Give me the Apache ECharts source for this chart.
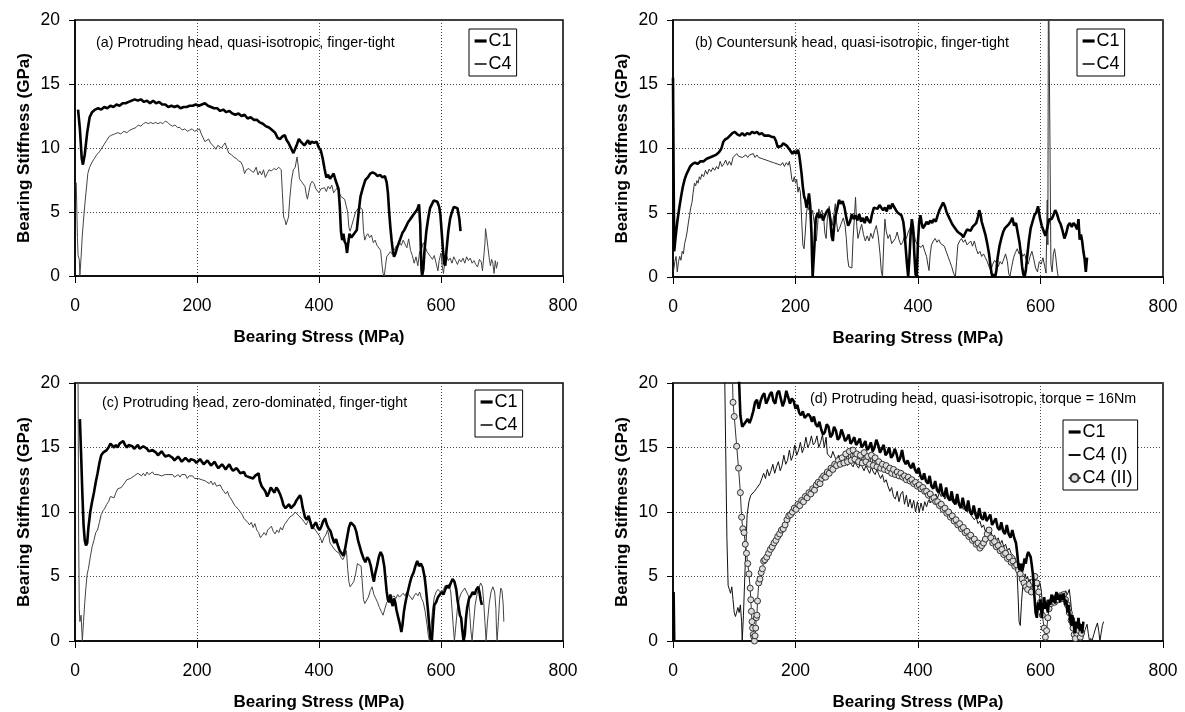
<!DOCTYPE html>
<html><head><meta charset="utf-8">
<script src="https://cdn.jsdelivr.net/npm/echarts@6/dist/echarts.min.js"></script>
<style>html,body{margin:0;padding:0;background:#fff}#c{width:1185px;height:712px}</style>
</head><body><div id="c"></div>
<script>
var xTicks = [0, 200, 400, 600, 800];
var yTicks = [0, 5, 10, 15, 20];
var xTitle = 'Bearing Stress (MPa)';
var yTitle = 'Bearing Stiffness (GPa)';
var notes = ['(a) Protruding head, quasi-isotropic, finger-tight',
  '(b) Countersunk head, quasi-isotropic, finger-tight',
  '(c) Protruding head, zero-dominated, finger-tight',
  '(d) Protruding head, quasi-isotropic, torque = 16Nm'];

var aC1 = [[5,13.0],[8,11.5],[11,9.2],[13,8.7],[16,9.5],[20,11.2],[24,12.4],[28,12.8],[33,13.0],[38,13.1],[43,13.0],[48,13.2],[53,13.1],[58,13.3],[63,13.2],[68,13.4],[73,13.3],[78,13.5],[83,13.5],[88,13.6],[93,13.7],[98,13.8],[103,13.7],[108,13.8],[113,13.6],[118,13.7],[123,13.5],[128,13.7],[133,13.5],[138,13.6],[143,13.4],[148,13.4],[153,13.2],[158,13.3],[163,13.2],[168,13.3],[173,13.1],[178,13.2],[183,13.2],[188,13.3],[193,13.3],[198,13.4],[203,13.3],[208,13.4],[213,13.5],[218,13.3],[223,13.2],[228,13.1],[233,13.1],[238,12.9],[243,13.0],[248,12.8],[253,12.9],[258,12.7],[263,12.6],[268,12.7],[273,12.5],[278,12.6],[283,12.3],[288,12.4],[293,12.2],[298,12.2],[303,12.0],[308,11.9],[313,11.7],[318,11.6],[323,11.4],[328,11.2],[332,10.8],[336,10.7],[340,10.9],[344,11.0],[347,10.6],[350,10.4],[354,10.0],[358,9.6],[361,9.7],[364,10.3],[367,10.7],[370,10.5],[373,10.6],[376,10.2],[379,10.4],[382,10.6],[385,10.3],[388,10.5],[392,10.4],[396,10.5],[400,10.0],[403,9.8],[406,9.2],[409,8.4],[412,7.7],[415,7.9],[418,7.6],[421,7.8],[424,8.0],[427,7.5],[430,7.6],[432,6.8],[434,5.5],[436,3.5],[438,2.8],[440,3.3],[442,2.7],[444,2.5],[446,1.8],[448,2.6],[450,3.3],[453,3.0],[456,3.2],[459,3.1],[462,3.6],[465,5.0],[468,6.2],[472,6.9],[476,7.5],[480,7.7],[484,8.0],[488,8.1],[492,8.0],[496,7.8],[500,7.9],[504,7.7],[508,7.8],[511,7.3],[513,6.5],[515,5.0],[517,3.8],[519,2.8],[521,2.0],[523,1.5],[525,1.7],[528,2.2],[531,2.6],[534,3.0],[537,3.4],[540,3.6],[543,3.9],[546,4.2],[549,4.4],[552,4.6],[555,4.8],[558,5.0],[561,5.2],[564,5.6],[566,4.0],[567,2.0],[568,0.5],[569,0],[571,0.5],[573,2.0],[576,3.5],[579,4.5],[582,5.3],[585,5.6],[588,5.9],[591,6.0],[594,5.8],[597,5.4],[599,4.8],[601,3.5],[603,2.2],[605,1.0],[607,0.8],[609,2.0],[612,3.5],[615,4.5],[618,5.0],[621,5.4],[624,5.5],[627,5.3],[630,4.5],[632,3.5]];

var aC4 = [[2,7.3],[4,3.0],[5,1.6],[7,1.3],[8,0],[10,1.5],[12,3.2],[15,5.0],[18,6.5],[21,8.0],[24,8.5],[28,8.9],[32,9.2],[36,9.5],[40,9.7],[44,10.0],[48,10.3],[52,10.6],[56,10.9],[60,11.0],[65,11.1],[70,11.2],[75,11.1],[80,11.3],[85,11.2],[90,11.4],[95,11.5],[100,11.6],[104,11.8],[108,11.7],[112,11.9],[116,12.0],[120,11.9],[124,12.0],[128,11.9],[132,12.0],[136,11.9],[140,12.0],[144,11.9],[148,12.1],[152,12.0],[156,11.8],[160,11.7],[164,11.8],[168,11.6],[172,11.6],[176,11.4],[180,11.5],[184,11.3],[188,11.4],[192,11.5],[196,11.3],[200,11.4],[204,11.5],[207,11.1],[210,10.8],[213,10.5],[216,10.4],[219,10.7],[222,10.4],[225,10.5],[228,10.1],[231,9.9],[234,10.2],[237,10.3],[240,10.0],[243,10.2],[246,10.4],[249,10.0],[252,9.6],[256,9.5],[260,9.3],[264,9.2],[268,9.0],[272,8.9],[275,8.6],[278,8.0],[281,8.3],[285,8.4],[289,8.2],[293,8.1],[297,8.5],[300,7.9],[303,8.2],[306,7.9],[309,8.3],[312,7.7],[315,8.0],[318,8.3],[322,8.2],[326,8.4],[330,8.3],[334,8.5],[338,8.3],[340,6.5],[342,4.6],[344,4.4],[346,4.0],[348,4.3],[350,4.6],[352,6.0],[355,7.5],[358,8.3],[361,8.5],[364,9.3],[366,8.6],[368,7.6],[371,7.4],[374,7.2],[377,7.0],[379,6.4],[381,6.0],[383,6.5],[386,7.2],[389,7.4],[392,7.2],[395,6.8],[398,6.9],[400,6.5],[403,6.8],[406,6.7],[409,6.9],[412,6.6],[415,7.0],[418,6.8],[421,7.1],[424,6.5],[427,6.7],[430,6.9],[433,6.5],[436,6.2],[439,6.3],[442,6.0],[445,6.0],[447,5.0],[449,3.8],[451,3.5],[454,4.0],[457,4.5],[460,5.0],[463,5.0],[466,5.4],[469,5.5],[471,5.2],[473,3.5],[475,2.8],[477,3.1],[480,3.3],[483,3.0],[486,3.2],[489,2.6],[492,2.8],[495,2.4],[498,2.5],[501,2.0],[503,1.0],[505,0.2],[507,0],[509,0.8],[511,1.5],[514,1.6],[517,1.9],[520,1.7],[523,2.0],[526,2.3],[529,2.2],[532,2.6],[535,2.4],[538,2.8],[541,2.5],[544,2.2],[547,2.9],[550,2.0],[553,1.6],[556,1.0],[559,1.5],[562,0.8],[565,1.9],[568,2.1],[571,2.6],[574,2.3],[577,1.9],[580,1.7],[583,1.5],[586,1.3],[589,1.6],[592,1.0],[595,0.4],[597,1.2],[600,1.8],[602,0.8],[604,0.2],[606,1.0],[609,1.6],[612,1.2],[615,1.4],[618,1.0],[621,1.5],[624,1.2],[627,0.9],[630,1.3],[633,1.1],[636,1.4],[639,1.0],[642,1.5],[645,1.2],[648,1.4],[651,1.0],[654,1.2],[657,0.9],[660,0.7],[663,1.3],[666,1.1],[668,0.4],[670,0.3],[672,2.5],[673,3.7],[675,3.0],[677,2.2],[679,1.4],[681,0.8],[683,1.3],[685,1.0],[687,0.2],[689,1.2],[691,0.6],[693,1.1]];

var bC1 = [[0,15.5],[1,8],[2,2.0],[4,3.0],[7,4.3],[10,5.3],[13,6.2],[16,7.0],[19,7.6],[22,8.0],[25,8.3],[28,8.6],[32,8.8],[36,8.9],[40,8.8],[45,9.0],[50,9.0],[55,9.2],[60,9.3],[65,9.4],[70,9.5],[75,9.7],[79,10.0],[82,10.5],[85,10.7],[89,10.8],[93,11.0],[97,11.2],[101,11.3],[105,11.1],[109,11.0],[113,11.2],[117,11.0],[121,11.2],[125,11.1],[129,11.3],[133,11.2],[137,11.3],[141,11.1],[145,11.2],[149,11.0],[153,11.0],[157,11.0],[161,10.9],[165,10.9],[168,10.6],[171,10.1],[174,10.0],[177,10.2],[180,10.4],[183,10.5],[186,10.2],[189,10.0],[192,9.8],[195,9.6],[198,9.8],[201,9.6],[204,9.9],[206,9.5],[208,8.8],[210,8.0],[212,7.0],[214,6.3],[216,6.0],[218,5.4],[220,5.8],[222,6.5],[224,5.6],[226,3.5],[227,1.5],[228,0],[229,0],[231,2.5],[233,4.5],[236,5.0],[239,4.6],[242,4.9],[245,4.4],[248,4.8],[251,5.1],[254,5.3],[257,4.4],[259,3.2],[261,2.8],[263,3.9],[265,4.7],[268,5.3],[271,6.0],[274,5.7],[277,5.9],[280,5.4],[283,4.6],[286,4.0],[289,4.3],[292,4.9],[295,4.5],[298,4.8],[301,4.4],[304,4.9],[307,4.3],[310,4.6],[313,4.2],[316,4.7],[319,4.4],[322,4.2],[325,4.9],[328,5.4],[331,5.5],[334,5.3],[337,5.6],[340,5.5],[343,5.2],[346,5.4],[349,5.1],[352,5.6],[355,5.3],[358,5.7],[361,5.8],[364,5.2],[367,5.0],[370,5.1],[373,4.8],[376,4.3],[378,3.5],[380,2.2],[382,1.0],[384,0],[386,1.5],[388,3.4],[390,4.5],[392,3.8],[394,1.8],[396,0.2],[398,0],[400,2.8],[402,4.3],[404,4.8],[406,4.2],[408,3.8],[411,4.0],[414,4.3],[417,4.1],[420,4.4],[423,4.2],[426,4.5],[429,4.3],[432,4.8],[435,5.2],[438,5.5],[441,5.8],[444,5.5],[447,5.0],[450,4.7],[453,4.4],[456,4.1],[459,3.9],[462,3.8],[465,3.5],[468,3.6],[471,3.3],[474,3.1],[477,3.4],[480,3.7],[483,3.8],[486,3.6],[489,3.9],[492,3.8],[495,4.2],[498,4.7],[500,5.2],[502,4.9],[504,4.3],[507,3.8],[510,3.3],[513,2.6],[516,1.8],[518,1.0],[520,0.3],[522,0],[524,0.2],[526,0],[528,0.5],[530,1.5],[533,2.4],[536,3.0],[539,3.5],[542,3.8],[545,3.9],[548,4.1],[551,4.3],[554,4.6],[557,4.0],[560,4.2],[563,3.4],[566,2.6],[568,1.8],[570,0.8],[572,0.2],[574,0],[576,0.5],[578,1.5],[581,2.8],[584,3.8],[587,4.3],[590,4.8],[593,5.0],[596,5.5],[599,4.6],[602,4.0],[605,3.6],[608,3.2],[611,3.8],[614,4.5],[618,4.5],[621,4.8],[624,5.2],[627,4.9],[630,4.4],[633,4.1],[636,3.6],[639,3.0],[642,3.4],[645,4.0],[648,4.2],[651,3.9],[654,4.2],[657,4.0],[660,3.7],[662,4.5],[664,2.9],[666,3.3],[668,2.8],[670,2.0],[672,1.4],[674,0.4],[676,1.5]];

var bC4 = [[1,0.5],[3,1.2],[5,1.6],[7,0.4],[9,1.2],[11,1.6],[13,1.3],[15,2.0],[17,1.8],[19,2.6],[21,3.0],[23,3.5],[25,4.2],[27,4.8],[29,5.4],[31,5.8],[33,6.6],[35,7.3],[37,7.1],[39,7.5],[41,7.3],[43,7.8],[45,7.6],[47,8.0],[50,7.8],[53,8.3],[56,8.0],[59,8.4],[62,8.2],[65,8.5],[68,8.3],[71,8.6],[74,8.4],[77,9.0],[80,8.6],[83,8.8],[86,9.1],[89,8.7],[92,9.0],[95,8.7],[98,9.3],[101,9.4],[104,9.6],[107,9.4],[110,9.5],[113,9.3],[116,9.4],[119,9.5],[122,9.3],[125,9.5],[128,9.4],[131,9.6],[134,9.3],[137,9.5],[140,9.3],[143,9.4],[146,9.2],[149,9.3],[152,9.1],[155,9.2],[158,9.0],[161,9.1],[164,8.9],[167,9.0],[170,8.8],[173,8.9],[176,8.7],[179,8.9],[182,8.6],[185,8.9],[188,8.7],[190,9.0],[192,8.4],[194,7.6],[196,7.4],[198,7.8],[200,7.3],[202,7.6],[204,6.6],[206,7.0],[208,6.6],[210,4.5],[212,2.5],[214,2.2],[216,3.5],[218,5.0],[220,5.6],[222,5.2],[224,5.6],[226,4.8],[228,5.2],[230,4.4],[232,3.8],[234,2.8],[236,4.0],[238,5.3],[240,4.9],[243,5.2],[246,4.6],[248,3.4],[250,3.0],[252,4.6],[255,5.5],[258,4.5],[260,4.0],[263,5.0],[265,5.7],[267,4.3],[269,3.5],[272,3.8],[275,4.2],[278,4.6],[281,4.0],[283,3.0],[285,1.5],[287,0.8],[290,0.9],[292,0.7],[294,3.0],[296,4.5],[298,6.2],[300,4.0],[302,3.0],[305,3.6],[308,4.1],[311,3.3],[314,2.8],[317,3.2],[320,2.8],[323,3.4],[326,3.0],[329,3.6],[332,4.0],[335,3.2],[338,1.8],[340,0.5],[342,0],[344,2.5],[346,4.5],[348,3.6],[351,3.0],[354,3.3],[357,2.6],[360,2.5],[363,3.0],[366,3.5],[369,2.9],[372,2.5],[375,2.7],[378,3.2],[381,3.0],[384,3.5],[387,3.8],[390,4.3],[393,3.6],[396,2.8],[399,2.5],[402,2.6],[405,2.3],[408,2.5],[411,2.0],[414,1.6],[416,1.0],[418,0.5],[420,1.8],[422,2.5],[425,2.8],[428,3.0],[431,2.7],[434,2.9],[437,2.6],[440,2.6],[443,2.4],[446,2.0],[449,1.6],[452,1.2],[455,0.8],[458,0.3],[461,0],[463,1.2],[465,2.5],[468,2.8],[471,3.0],[474,2.7],[477,2.9],[480,2.5],[483,2.6],[486,2.8],[489,2.4],[492,2.8],[495,2.2],[498,1.8],[501,2.0],[504,1.6],[507,1.8],[510,1.5],[513,1.2],[516,0.8],[519,0.5],[522,1.0],[525,1.3],[528,1.1],[531,0.8],[534,1.2],[537,1.0],[540,1.4],[543,1.8],[546,1.2],[548,0.3],[550,0],[553,0.8],[556,1.5],[559,1.9],[562,2.2],[565,1.8],[568,2.0],[571,1.6],[574,1.8],[577,1.3],[580,1.0],[583,1.6],[586,2.0],[589,1.4],[592,0.7],[595,0.4],[598,1.2],[601,1.0],[604,1.5],[607,0.8],[609,0.3],[611,6.0],[612,2.5],[613,25],[616,25],[617,1.0],[619,0.4],[621,1.8],[623,2.2],[625,1.5],[627,0.6],[629,0]];

var cC1 = [[8,17.2],[10,14.5],[12,11.5],[14,9.0],[16,7.8],[18,7.4],[20,7.6],[22,8.8],[25,10.0],[28,10.8],[31,11.5],[34,12.3],[37,13.0],[40,13.8],[43,14.4],[46,14.6],[49,14.6],[52,14.8],[55,15.0],[58,15.3],[61,15.2],[64,15.0],[67,15.2],[70,15.0],[73,15.3],[76,15.4],[79,15.5],[82,15.2],[85,15.0],[88,15.2],[91,15.3],[94,15.1],[97,14.9],[100,15.0],[103,15.2],[106,14.9],[109,14.8],[112,15.1],[115,15.2],[118,14.9],[121,14.7],[124,14.6],[127,14.8],[130,14.9],[133,14.6],[136,14.4],[139,14.5],[142,14.7],[145,14.5],[148,14.3],[151,14.2],[154,14.4],[157,14.5],[160,14.2],[163,14.0],[166,14.1],[169,14.3],[172,14.1],[175,13.9],[178,14.0],[181,14.2],[184,14.1],[187,13.9],[190,14.1],[193,14.2],[196,14.0],[199,13.8],[202,13.9],[205,14.1],[208,13.9],[211,13.7],[214,13.8],[217,14.0],[220,13.8],[223,13.6],[226,13.7],[229,13.9],[232,13.6],[235,13.4],[238,13.5],[241,13.7],[244,13.5],[247,13.3],[250,13.5],[253,13.7],[256,13.4],[259,13.2],[262,13.1],[265,13.4],[268,13.2],[271,13.0],[274,12.9],[277,13.1],[280,12.8],[283,12.9],[286,12.7],[289,12.8],[292,12.6],[295,12.8],[298,12.9],[301,13.0],[303,12.4],[306,12.0],[309,11.8],[312,11.6],[315,11.2],[318,11.5],[321,11.9],[324,11.8],[327,11.5],[330,11.9],[333,11.7],[336,11.4],[339,11.0],[342,10.5],[345,10.3],[348,10.4],[351,10.6],[354,10.3],[357,10.2],[360,10.6],[363,10.9],[366,11.1],[369,11.3],[371,11.0],[373,10.4],[375,10.0],[377,9.6],[380,9.4],[383,9.7],[386,9.2],[389,8.7],[392,9.0],[395,9.2],[398,8.8],[401,8.6],[404,8.9],[407,9.3],[410,9.5],[413,9.0],[416,8.7],[419,8.5],[422,8.0],[425,7.6],[428,7.9],[431,7.4],[434,7.0],[437,6.8],[440,6.6],[443,7.2],[446,8.0],[449,8.8],[452,9.2],[455,9.1],[458,8.9],[461,8.5],[464,7.8],[467,7.3],[470,6.8],[473,6.4],[476,6.1],[479,6.5],[482,6.3],[485,5.8],[488,5.0],[490,4.6],[492,5.2],[495,5.8],[498,6.5],[501,6.9],[504,6.6],[507,5.8],[509,4.8],[511,3.8],[513,3.2],[515,3.0],[517,3.6],[519,3.0],[521,2.7],[523,3.3],[525,3.0],[527,2.4],[529,2.0],[531,1.6],[533,1.2],[535,0.7],[537,1.3],[539,2.2],[541,2.8],[543,3.3],[546,3.9],[549,4.5],[552,5.0],[555,5.3],[558,5.8],[561,6.2],[564,5.8],[567,6.0],[570,5.7],[573,5.0],[575,4.2],[577,3.2],[579,2.2],[581,1.0],[583,0.2],[585,0],[587,1.5],[589,2.8],[592,3.0],[595,3.4],[598,3.3],[601,3.8],[604,3.6],[607,4.0],[610,4.3],[613,4.1],[616,4.5],[619,4.8],[622,4.6],[625,4.0],[627,3.2],[629,2.6],[631,2.0],[633,1.8],[635,0.8],[637,0],[639,0.5],[641,1.8],[643,2.6],[646,3.3],[649,3.5],[652,3.8],[655,3.6],[658,4.0],[661,4.2],[663,3.8],[665,3.2],[667,2.8]];

var cC4 = [[5,20.5],[6,8],[7,2.5],[8,1.5],[10,2.0],[11,1.0],[12,0],[14,1.5],[16,3.0],[18,4.2],[20,5.2],[22,5.6],[25,6.5],[28,7.3],[31,7.8],[34,8.4],[37,8.6],[40,9.2],[43,9.8],[46,10.1],[49,10.3],[52,10.6],[55,10.8],[58,11.2],[61,11.3],[64,11.1],[67,11.5],[70,11.8],[73,11.7],[76,11.9],[79,12.1],[82,12.3],[85,12.5],[88,12.4],[91,12.6],[94,12.5],[97,12.8],[100,12.7],[103,13.0],[106,12.9],[109,12.8],[112,13.0],[115,12.8],[118,13.1],[121,12.9],[124,12.8],[127,13.1],[130,12.9],[133,12.8],[136,12.9],[139,13.0],[142,12.8],[145,12.7],[148,12.9],[151,12.8],[154,12.9],[157,12.8],[160,12.9],[163,12.7],[166,12.8],[169,12.9],[172,12.7],[175,12.9],[178,12.8],[181,12.9],[184,12.6],[187,12.8],[190,12.7],[193,12.8],[196,12.6],[199,12.7],[202,12.6],[205,12.7],[208,12.5],[211,12.6],[214,12.4],[217,12.5],[220,12.2],[223,12.4],[226,12.1],[229,12.3],[232,12.0],[235,11.9],[238,12.1],[241,11.8],[244,11.6],[247,11.4],[250,11.6],[253,11.2],[256,11.0],[259,10.9],[262,10.5],[265,10.6],[268,10.2],[271,10.0],[274,9.8],[277,9.5],[280,9.6],[283,9.2],[286,9.0],[289,9.2],[292,8.8],[295,9.1],[298,8.6],[301,8.4],[304,8.0],[307,8.2],[310,8.4],[313,8.2],[316,8.6],[319,8.5],[322,8.9],[325,8.5],[328,8.3],[331,8.6],[334,8.4],[337,8.8],[340,8.6],[343,9.0],[346,9.2],[349,9.4],[352,9.6],[355,9.5],[358,9.8],[361,10.0],[364,9.9],[367,9.7],[370,9.8],[373,9.4],[376,9.2],[379,9.0],[382,9.3],[385,9.5],[388,9.0],[391,8.8],[394,8.6],[397,8.4],[400,8.2],[403,7.9],[405,7.6],[408,8.0],[411,8.2],[414,8.6],[416,8.2],[418,7.6],[421,7.4],[424,7.2],[427,7.0],[430,7.1],[433,6.8],[436,6.5],[439,6.3],[442,6.6],[445,7.0],[447,5.6],[449,4.6],[451,4.2],[454,4.3],[457,4.6],[460,5.2],[463,6.0],[466,6.1],[469,5.8],[471,4.5],[473,3.2],[475,2.9],[478,2.9],[481,3.4],[484,3.9],[487,4.2],[490,3.6],[493,3.3],[496,3.0],[499,2.6],[502,2.3],[505,2.0],[508,2.5],[511,3.0],[514,3.1],[517,3.3],[520,3.2],[523,3.5],[526,3.3],[529,3.6],[532,3.4],[535,3.5],[538,3.7],[541,3.5],[544,3.8],[547,3.6],[550,3.4],[553,3.2],[556,3.5],[559,3.7],[562,3.5],[565,3.8],[568,3.3],[571,3.0],[574,2.3],[577,1.3],[579,0.5],[581,0],[583,0.8],[586,2.3],[589,3.4],[592,3.8],[595,4.0],[598,3.9],[601,3.7],[604,4.0],[607,4.3],[610,4.1],[613,4.4],[616,3.8],[618,2.5],[620,1.2],[622,0],[624,1.0],[627,2.6],[630,3.3],[633,3.7],[636,3.9],[639,4.1],[642,4.0],[645,3.5],[647,2.2],[649,0.8],[651,0],[653,1.2],[656,2.8],[659,3.6],[662,4.1],[665,4.5],[668,4.2],[670,3.0],[672,1.5],[674,0],[676,1.4],[679,2.9],[682,3.8],[685,4.2],[688,3.8],[690,2.5],[691,0.8],[692,0],[694,1.5],[696,3.2],[698,4.1],[700,3.9],[702,2.8],[703,1.5]];

var dC1 = [[1,3.8],[2,0],[3,'-'],[106,22],[108,20],[110,17.5],[113,16.6],[116,16.8],[119,16.7],[122,17.2],[125,16.9],[128,17.3],[131,17.8],[134,18.5],[137,18.7],[140,18.0],[143,18.6],[146,19.0],[149,19.2],[152,18.4],[155,18.7],[158,19.1],[161,19.3],[164,18.6],[167,18.4],[170,19.2],[173,19.4],[176,18.8],[179,18.2],[182,18.6],[185,19.4],[188,18.9],[191,18.4],[194,18.8],[197,18.6],[200,18.0],[203,18.3],[206,17.7],[209,17.5],[212,17.8],[215,17.3],[218,17.2],[221,17.6],[224,17.4],[227,17.0],[230,17.4],[233,16.8],[236,16.6],[239,17.0],[242,16.4],[245,16.0],[248,16.2],[251,16.8],[254,16.6],[257,15.8],[260,16.0],[263,16.6],[266,16.3],[269,15.6],[272,15.8],[275,16.4],[278,16.0],[281,15.5],[284,15.7],[287,16.0],[290,15.3],[293,15.5],[296,15.8],[299,15.2],[302,15.4],[305,15.7],[308,15.0],[311,15.2],[314,15.5],[317,14.8],[320,15.0],[323,15.4],[326,14.7],[329,15.0],[332,15.6],[335,15.2],[338,14.6],[341,14.9],[344,15.2],[347,14.4],[350,14.6],[353,15.0],[356,14.2],[359,14.4],[362,14.9],[365,14.5],[368,13.9],[371,14.2],[374,14.8],[377,14.0],[380,13.7],[383,14.0],[386,13.6],[389,13.4],[392,13.8],[395,13.3],[398,13.0],[401,13.4],[404,12.8],[407,12.5],[410,13.0],[413,12.4],[416,12.2],[419,12.8],[422,12.0],[425,11.8],[428,12.4],[431,11.7],[434,11.5],[437,12.2],[440,11.4],[443,11.2],[446,11.9],[449,11.1],[452,10.9],[455,11.6],[458,10.8],[461,10.6],[464,11.4],[467,10.6],[470,10.3],[473,11.1],[476,10.4],[479,10.1],[482,10.9],[485,10.0],[488,9.8],[491,10.5],[494,9.8],[497,9.5],[500,10.3],[503,9.6],[506,9.4],[509,10.0],[512,9.3],[515,9.2],[518,9.8],[521,9.0],[524,8.9],[527,9.5],[530,8.8],[533,8.6],[536,9.2],[539,8.5],[542,8.3],[545,9.0],[548,8.3],[551,8.0],[554,8.6],[557,8.0],[560,7.6],[562,6.8],[564,5.8],[566,5.5],[568,6.0],[570,5.4],[572,5.8],[574,6.4],[576,6.0],[578,6.6],[580,6.9],[582,7.0],[584,6.5],[586,5.8],[588,5.0],[590,3.5],[592,2.2],[594,1.8],[596,3.0],[598,2.4],[600,3.2],[602,1.8],[604,2.6],[606,3.4],[608,2.5],[610,3.0],[612,2.2],[614,3.2],[616,2.8],[618,3.6],[620,3.0],[622,3.5],[624,2.9],[626,3.8],[628,3.2],[630,3.6],[632,3.0],[634,3.6],[636,3.2],[638,3.7],[640,2.8],[642,3.2],[644,2.2],[646,2.8],[648,1.8],[650,1.2],[652,2.0],[654,1.4],[656,0.6],[658,1.5],[660,1.0],[662,1.8],[664,0.8],[666,1.3],[668,0.6],[670,1.5]];

var dC4I = [[84,22],[86,15],[88,8],[90,4.3],[92,4.0],[94,3.7],[96,4.2],[98,3.2],[100,2.2],[102,1.9],[104,2.0],[106,2.6],[108,2.2],[110,2.8],[112,1.5],[113,0],[115,2.0],[118,6.0],[121,9.8],[124,10.8],[127,11.3],[130,11.4],[133,11.6],[136,11.8],[139,11.9],[142,12.2],[145,12.6],[148,13.0],[151,12.6],[154,13.3],[157,12.8],[160,13.2],[163,13.7],[166,13.0],[169,13.5],[172,13.9],[175,13.2],[178,13.6],[181,14.4],[184,13.7],[187,14.0],[190,14.8],[193,14.0],[196,14.4],[199,15.2],[202,14.4],[205,14.8],[208,15.4],[211,14.6],[214,15.0],[217,15.8],[220,15.0],[223,15.3],[226,15.9],[229,15.2],[232,15.4],[235,15.9],[238,15.0],[241,15.4],[244,16.0],[247,15.0],[250,15.8],[252,14.5],[255,14.6],[258,14.2],[261,14.7],[264,14.3],[267,14.0],[270,14.4],[273,13.8],[276,14.1],[279,13.7],[282,14.0],[285,13.6],[288,13.9],[291,13.7],[294,13.5],[297,13.9],[300,13.6],[303,13.4],[306,13.8],[309,13.5],[312,13.2],[315,13.6],[318,13.3],[321,13.0],[324,13.5],[327,13.1],[330,12.9],[333,13.3],[336,12.9],[339,12.6],[342,12.9],[345,12.3],[348,12.5],[351,12.0],[354,11.6],[357,11.9],[360,11.2],[363,11.0],[366,11.6],[369,10.8],[372,11.4],[375,11.6],[378,10.6],[381,11.3],[384,10.4],[387,11.0],[390,10.3],[393,10.9],[396,10.0],[399,10.8],[402,10.0],[405,10.7],[408,10.1],[411,10.8],[414,10.4],[417,10.9],[420,10.7],[423,11.2],[426,11.0],[429,11.4],[432,11.1],[435,11.5],[438,11.2],[441,11.4],[444,11.0],[447,11.3],[450,11.0],[453,11.2],[456,10.8],[459,11.0],[462,10.6],[465,10.8],[468,10.4],[471,10.6],[474,10.2],[477,10.4],[480,10.0],[483,10.2],[486,9.8],[489,9.9],[492,9.4],[495,9.6],[498,9.1],[501,9.3],[504,8.8],[507,9.0],[510,8.5],[513,8.8],[516,8.2],[519,8.5],[522,8.0],[525,8.2],[528,7.8],[531,8.0],[534,7.5],[537,7.8],[540,7.3],[543,7.5],[546,7.0],[549,7.2],[552,6.8],[555,6.9],[558,6.5],[561,6.0],[563,4.0],[565,1.5],[567,1.2],[569,3.0],[571,4.2],[573,4.8],[575,5.2],[577,4.8],[579,5.0],[581,4.5],[583,4.8],[585,4.2],[587,4.6],[589,4.3],[591,4.7],[593,4.4],[595,4.6],[597,4.2],[599,4.5],[601,4.0],[603,3.0],[605,2.5],[608,2.8],[611,3.2],[614,2.7],[617,3.0],[620,2.8],[623,3.3],[626,3.0],[629,3.6],[632,3.2],[635,3.8],[638,3.5],[641,3.9],[644,3.6],[647,4.0],[649,3.2],[651,2.2],[653,1.5],[655,1.8],[657,1.2],[659,0.8],[661,1.0],[663,0.4],[665,0.2],[667,0],[670,0.4],[673,0.9],[676,1.3],[678,0.6],[680,0],[682,0.2],[684,0],[687,0.5],[690,1.0],[693,1.4],[695,0.8],[697,0],[699,0.6],[701,1.2],[703,1.5]];

var dC4II = [[97,20.5],[98,18.5],[100,17.4],[104,15.1],[107,13.4],[110,11.5],[112,9.6],[114,8.7],[116,8.4],[118,7.5],[120,6.8],[122,6.0],[124,5.2],[126,4.1],[127,3.2],[128,2.3],[129,1.5],[130,1.0],[131,0.5],[132,0.3],[133,0],[134,0.4],[135,1.0],[136,1.8],[137,2.0],[138,3.1],[140,4.5],[142,4.8],[144,5.3],[146,5.6],[148,6.2],[150,6.3],[153,6.5],[156,6.8],[159,7.1],[162,7.3],[165,7.6],[168,7.8],[171,8.1],[174,8.3],[177,8.6],[180,8.7],[183,9.0],[186,9.4],[189,9.7],[192,9.8],[195,10.0],[198,10.3],[201,10.2],[204,10.6],[207,10.5],[210,10.9],[213,10.8],[216,11.2],[219,11.1],[222,11.5],[225,11.4],[228,11.8],[231,11.7],[234,12.1],[237,12.3],[240,12.2],[243,12.6],[246,12.8],[249,12.7],[252,13.1],[255,13.0],[258,13.4],[261,13.3],[264,13.7],[267,13.6],[270,14.0],[273,13.7],[276,14.2],[279,13.8],[282,14.5],[285,13.9],[288,14.7],[291,14.0],[294,14.8],[297,14.1],[300,14.5],[303,13.9],[306,14.4],[309,13.8],[312,14.6],[315,13.9],[318,14.3],[321,13.7],[324,14.4],[327,13.6],[330,14.2],[333,13.5],[336,13.9],[339,13.4],[342,13.7],[345,13.3],[348,13.6],[351,13.2],[354,13.4],[357,13.0],[360,13.3],[363,12.9],[366,13.1],[369,12.8],[372,13.0],[375,12.7],[378,12.8],[381,12.5],[384,12.7],[387,12.4],[390,12.5],[393,12.2],[396,12.3],[399,12.0],[402,12.1],[405,11.8],[408,11.9],[411,11.6],[414,11.6],[417,11.3],[420,11.4],[423,11.0],[426,11.1],[429,10.8],[432,10.8],[435,10.5],[438,10.6],[441,10.2],[444,10.3],[447,9.9],[450,10.0],[453,9.6],[456,9.7],[459,9.3],[462,9.4],[465,9.0],[468,9.1],[471,8.7],[474,8.8],[477,8.4],[480,8.5],[483,8.1],[486,8.2],[489,7.8],[492,7.9],[495,7.5],[498,7.6],[501,7.2],[504,7.4],[507,7.6],[510,7.9],[513,8.3],[516,8.6],[519,8.0],[522,7.6],[525,7.7],[528,7.3],[531,7.4],[534,7.0],[537,7.1],[540,6.7],[543,6.8],[546,6.4],[549,6.5],[552,6.1],[555,6.2],[558,5.8],[561,5.9],[564,5.5],[567,5.2],[570,4.8],[573,4.5],[576,4.2],[579,4.0],[582,4.4],[585,3.8],[588,4.6],[591,5.0],[594,4.5],[597,3.8],[600,3.0],[603,2.0],[606,1.0],[608,0.3],[610,0.8],[612,1.8],[614,2.5],[617,2.9],[620,3.2],[623,3.0],[626,3.4],[629,3.2],[632,3.5],[635,3.3],[638,3.6],[641,3.2],[644,2.8],[647,2.2],[650,1.6],[653,1.0],[655,0.5],[657,0.2],[659,0.6],[661,1.2],[663,0.8],[665,0.3],[667,0.6]];

var FONT = '"Liberation Sans", Arial, sans-serif';
var grids = [
  {left: 75, top: 20, width: 488, height: 256},
  {left: 673, top: 20, width: 490, height: 257},
  {left: 75, top: 383, width: 488, height: 258},
  {left: 673, top: 383, width: 490, height: 258}
];
var notePos = [[96, 36], [695, 36], [102, 396], [810, 392]];
var legendPos = [[469, 29], [1077, 29], [475, 390], [1063, 420]];

function xAxis(i) {
  return {gridIndex: i, type: 'value', min: xTicks[0], max: xTicks[xTicks.length - 1], interval: xTicks[1] - xTicks[0],
    name: xTitle, nameLocation: 'middle', nameGap: 53,
    nameTextStyle: {fontFamily: FONT, fontWeight: 'bold', fontSize: 17, color: '#000'},
    axisLine: {show: true, onZero: false, lineStyle: {color: '#000', width: 1.5}},
    axisTick: {show: true, length: 7, lineStyle: {color: '#000'}},
    axisLabel: {fontFamily: FONT, fontSize: 17.5, color: '#000', margin: 21},
    splitLine: {show: true, lineStyle: {color: '#444', type: [1, 2], width: 1}}};
}
function yAxis(i) {
  return {gridIndex: i, type: 'value', min: yTicks[0], max: yTicks[yTicks.length - 1], interval: yTicks[1] - yTicks[0],
    name: yTitle, nameLocation: 'middle', nameGap: 42, nameRotate: 90,
    nameTextStyle: {fontFamily: FONT, fontWeight: 'bold', fontSize: 17, color: '#000'},
    axisLine: {show: true, onZero: false, lineStyle: {color: '#000', width: 1.5}},
    axisTick: {show: true, length: 6, lineStyle: {color: '#000'}},
    axisLabel: {fontFamily: FONT, fontSize: 17.5, color: '#000', margin: 15},
    splitLine: {show: true, lineStyle: {color: '#444', type: [1, 2], width: 1}}};
}
function thick(name, i, data) {
  return {name: name, type: 'line', xAxisIndex: i, yAxisIndex: i, data: data, showSymbol: false, symbol: 'none',
    lineStyle: {color: '#000', width: 2.6}, itemStyle: {color: '#000'}, animation: false, z: 5};
}
function thin(name, i, data, col) {
  return {name: name, type: 'line', xAxisIndex: i, yAxisIndex: i, data: data, showSymbol: false, symbol: 'none',
    lineStyle: {color: col, width: 1}, itemStyle: {color: col}, animation: false, z: 3};
}
function legend(i, names) {
  return {data: names.map(function (n) {
      if (n === 'C4 (II)') return {name: n};
      if (n === 'C1') return {name: n, itemStyle: {opacity: 0}, lineStyle: {width: 3.2, color: '#000'}};
      return {name: n, itemStyle: {opacity: 0}};
    }),
    orient: 'vertical', left: legendPos[i][0], top: legendPos[i][1],
    backgroundColor: '#fff', borderColor: '#000', borderWidth: 1, padding: [3, 5, 3, 4],
    itemWidth: 12, itemHeight: 10, itemGap: 5, selectedMode: false,
    textStyle: {fontFamily: FONT, fontSize: 18, color: '#000', padding: [0, 0, 0, -3]}};
}

var series = [
  thin('C4', 0, aC4, '#444'), thick('C1', 0, aC1),
  thin('C4', 1, bC4, '#333'), thick('C1', 1, bC1),
  thin('C4', 2, cC4, '#444'), thick('C1', 2, cC1),
  thin('C4 (I)', 3, dC4I, '#111'),
  {name: 'C4 (II)', type: 'line', xAxisIndex: 3, yAxisIndex: 3, data: dC4II, symbol: 'circle', symbolSize: 6, showSymbol: true,
    lineStyle: {color: '#333', width: 1}, itemStyle: {color: '#ddd', borderColor: '#333', borderWidth: 1}, animation: false, z: 4},
  thick('C1', 3, dC1)
];

var graphics = notes.map(function (t, i) {
  return {type: 'text', left: notePos[i][0], top: notePos[i][1], z: 100,
    style: {text: t, font: '14.3px ' + FONT, fill: '#000'}};
});

var chart = echarts.init(document.getElementById('c'), null, {renderer: 'canvas'});
chart.setOption({
  backgroundColor: '#fff',
  animation: false,
  grid: grids.map(function (g) { return Object.assign({show: true, borderColor: '#000', borderWidth: 1.5, backgroundColor: '#fff'}, g); }),
  xAxis: [0, 1, 2, 3].map(xAxis),
  yAxis: [0, 1, 2, 3].map(yAxis),
  legend: [legend(0, ['C1', 'C4']), legend(1, ['C1', 'C4']), legend(2, ['C1', 'C4']), legend(3, ['C1', 'C4 (I)', 'C4 (II)'])],
  graphic: graphics,
  series: series
});
</script></body></html>
